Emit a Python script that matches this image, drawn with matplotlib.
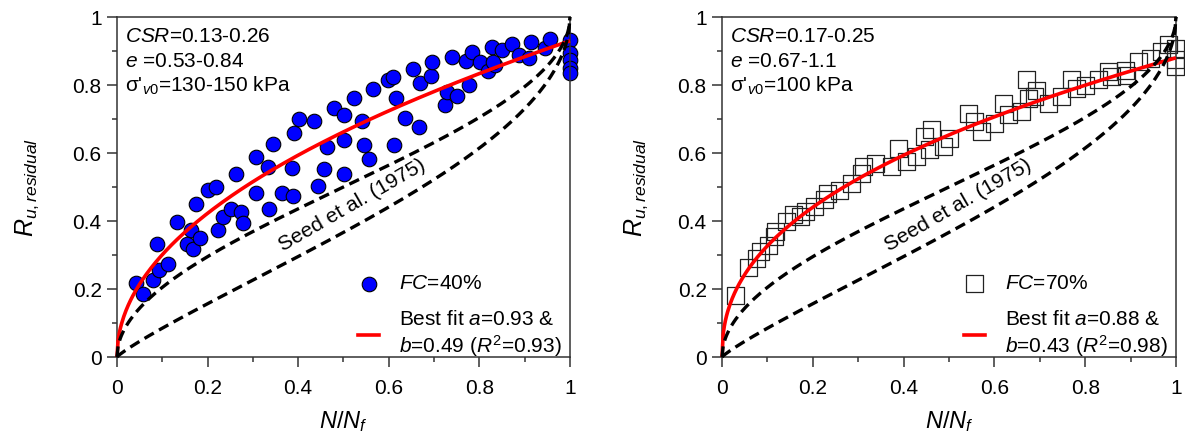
import numpy as np
import matplotlib
matplotlib.use('Agg')
import matplotlib.pyplot as plt
from matplotlib.lines import Line2D

plt.rcParams['font.family'] = ['Liberation Sans', 'DejaVu Sans']
plt.rcParams['mathtext.fontset'] = 'custom'
plt.rcParams['mathtext.rm'] = 'Liberation Sans'
plt.rcParams['mathtext.it'] = 'Liberation Sans:italic'
plt.rcParams['mathtext.bf'] = 'Liberation Sans:bold'

# ---- data ----
# FC = 40 %
fc40_x = [0.043, 0.058, 0.079, 0.093, 0.113, 0.089, 0.132, 0.154, 0.168, 0.163,
          0.183, 0.174, 0.202, 0.219, 0.224, 0.233, 0.251, 0.274, 0.279, 0.263,
          0.308, 0.306, 0.336, 0.333, 0.345, 0.364, 0.389, 0.386, 0.391, 0.402,
          0.436, 0.443, 0.456, 0.463, 0.479, 0.502, 0.501, 0.502, 0.523, 0.540,
          0.546, 0.557, 0.566, 0.599, 0.609, 0.616, 0.612, 0.636, 0.667, 0.653,
          0.669, 0.693, 0.696, 0.724, 0.728, 0.751, 0.740, 0.778, 0.770, 0.783,
          0.801, 0.818, 0.834, 0.831, 0.827, 0.849, 0.871, 0.888, 0.910, 0.913,
          0.945, 0.956, 1.0, 1.0, 1.0, 1.0, 1.0]
fc40_y = [0.217, 0.185, 0.226, 0.256, 0.274, 0.332, 0.398, 0.332, 0.318, 0.375,
          0.349, 0.449, 0.491, 0.501, 0.374, 0.411, 0.434, 0.427, 0.395, 0.538,
          0.481, 0.589, 0.434, 0.558, 0.626, 0.481, 0.474, 0.556, 0.658, 0.699,
          0.695, 0.503, 0.552, 0.619, 0.731, 0.711, 0.638, 0.538, 0.761, 0.694,
          0.624, 0.581, 0.788, 0.815, 0.824, 0.761, 0.624, 0.702, 0.677, 0.846,
          0.807, 0.827, 0.867, 0.741, 0.778, 0.768, 0.883, 0.800, 0.871, 0.898,
          0.867, 0.841, 0.859, 0.869, 0.911, 0.903, 0.922, 0.888, 0.878, 0.927,
          0.908, 0.934, 0.932, 0.893, 0.874, 0.849, 0.834]

# FC = 70 %
fc70_x = [0.030, 0.058, 0.076, 0.084, 0.102, 0.115, 0.117, 0.143, 0.157, 0.172,
          0.183, 0.203, 0.225, 0.232, 0.258, 0.286, 0.308, 0.311, 0.337, 0.374,
          0.388, 0.407, 0.429, 0.447, 0.462, 0.458, 0.487, 0.502, 0.543, 0.557,
          0.572, 0.601, 0.620, 0.631, 0.660, 0.671, 0.675, 0.693, 0.689, 0.719,
          0.748, 0.770, 0.781, 0.800, 0.829, 0.851, 0.858, 0.888, 0.891, 0.917,
          0.943, 0.968, 0.983, 1.0, 1.0, 1.0]
fc70_y = [0.182, 0.264, 0.290, 0.310, 0.329, 0.354, 0.369, 0.398, 0.418, 0.413,
          0.427, 0.442, 0.464, 0.481, 0.491, 0.511, 0.540, 0.560, 0.568, 0.560,
          0.614, 0.574, 0.589, 0.648, 0.668, 0.609, 0.619, 0.643, 0.717, 0.692,
          0.663, 0.687, 0.746, 0.712, 0.721, 0.815, 0.761, 0.785, 0.766, 0.746,
          0.766, 0.815, 0.790, 0.800, 0.815, 0.839, 0.824, 0.844, 0.829, 0.869,
          0.878, 0.898, 0.918, 0.908, 0.874, 0.854]

# best fit parameters (R = a * (N/Nf)^b)
fit_a = [0.93, 0.88]
fit_b = [0.49, 0.43]
fit_r2 = ['0.93', '0.98']

# Seed et al. (1975) band, alpha for upper and lower bound
seed_alpha = [1.0, 0.57]

fc_labels = ['40%', '70%']
csr_text = ['0.13-0.26', '0.17-0.25']
e_text = ['0.53-0.84', '0.67-1.1']
sig_text = ['130-150 kPa', '100 kPa']

tick_vals = [0, 0.2, 0.4, 0.6, 0.8, 1.0]
tick_labels = ['0', '0.2', '0.4', '0.6', '0.8', '1']

fs = 15
spine_col = '#333333'

fig = plt.figure(figsize=(11.85, 4.32), dpi=100)
ax1 = fig.add_axes([0.0987, 0.1736, 0.3823, 0.787])
ax2 = fig.add_axes([0.6093, 0.1736, 0.3831, 0.787])

xx = np.linspace(0, 1, 400)

for i, ax in enumerate([ax1, ax2]):
    # measured points
    if i == 0:
        pts = ax.scatter(fc40_x, fc40_y, s=110, facecolor='#0000ff', edgecolor='black',
                         linewidth=0.8, zorder=2, clip_on=False)
    else:
        pts = ax.scatter(fc70_x, fc70_y, s=150, marker='s', facecolor='none',
                         edgecolor='#222222', linewidth=0.9, zorder=2, clip_on=False)

    # best fit
    fit_line, = ax.plot(xx, fit_a[i] * xx ** fit_b[i], color='#ff0000', lw=2.6, zorder=3,
                        solid_capstyle='butt', clip_on=False)

    # Seed et al. (1975) bounds
    for alpha in seed_alpha:
        ru = 0.5 + np.arcsin(2 * xx ** (1 / alpha) - 1) / np.pi
        ax.plot(xx, ru, color='black', lw=2.4, linestyle=(0, (3.2, 1.8)), zorder=4,
                clip_on=False)
    ax.text(0.52, 0.445, 'Seed et al. (1975)', fontsize=fs, rotation=30,
            rotation_mode='anchor', ha='center', va='center')

    # test conditions
    ax.text(0.018, 0.927, r'$CSR$=' + csr_text[i], transform=ax.transAxes, fontsize=fs,
            va='baseline')
    ax.text(0.018, 0.854, r'$e$ =' + e_text[i], transform=ax.transAxes, fontsize=fs,
            va='baseline')
    ax.text(0.018, 0.78, "σ'" + r'$_{v0}$=' + sig_text[i], transform=ax.transAxes,
            fontsize=fs, va='baseline')

    # legend
    fit_label = (r'Best fit $a$=%.2f &' % fit_a[i] + '\n'
                 + r'$b$=%.2f ($R^2$=%s)' % (fit_b[i], fit_r2[i]))
    leg_line = Line2D([0], [0], color='#ff0000', lw=2.6)
    ax.legend([pts, leg_line], [r'$FC$=' + fc_labels[i], fit_label], loc='lower right',
              bbox_to_anchor=(1.0, -0.03), frameon=False, fontsize=fs, handlelength=1.0,
              handletextpad=0.95, labelspacing=0.8, borderaxespad=0.0, scatterpoints=1)

    ax.set_xlim(0, 1)
    ax.set_ylim(0, 1)
    ax.set_xticks(tick_vals)
    ax.set_xticklabels(tick_labels)
    ax.set_yticks(tick_vals)
    ax.set_yticklabels(tick_labels)
    ax.set_xticks(np.arange(0.1, 1.0, 0.2), minor=True)
    ax.set_yticks(np.arange(0.1, 1.0, 0.2), minor=True)
    ax.tick_params(which='major', direction='out', length=7, width=1.1, labelsize=fs,
                   color=spine_col)
    ax.tick_params(which='minor', direction='out', length=3.5, width=1.1, color=spine_col)
    ax.tick_params(axis='x', pad=9)
    ax.tick_params(axis='y', pad=4)
    for sp in ax.spines.values():
        sp.set_color(spine_col)
        sp.set_linewidth(1.1)

    ax.set_xlabel(r'$N$/$N_f$', fontsize=17, labelpad=8)
    ax.set_ylabel(r'$R_{u,residual}$', fontsize=18)

ax1.yaxis.set_label_coords(-0.168, 0.5)
ax2.yaxis.set_label_coords(-0.159, 0.5)

plt.savefig('out.png', dpi=100)
